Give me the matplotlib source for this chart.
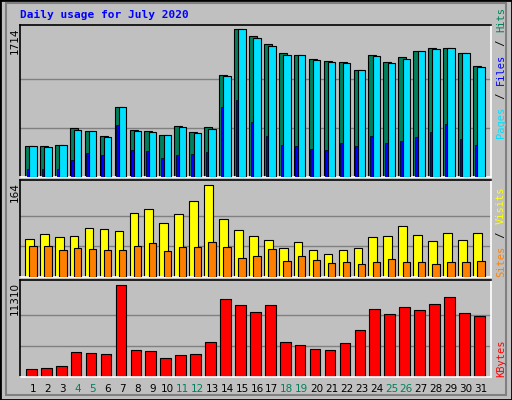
import matplotlib
matplotlib.use("Agg")
import matplotlib.pyplot as plt
from matplotlib.patches import Rectangle

days = list(range(1, 32))
hits = [365,365,376,566,539,481,818,551,539,493,597,527,586,1179,1714,1633,1540,1435,1412,1365,1342,1330,1237,1412,1330,1388,1458,1493,1493,1435,1284]
files = [365,353,376,551,539,469,818,539,527,493,586,516,562,1167,1714,1609,1516,1412,1412,1353,1330,1319,1237,1400,1319,1365,1458,1481,1493,1435,1272]
pages = [97,97,97,202,283,260,609,318,306,225,260,271,295,807,888,644,481,376,365,330,318,399,365,481,399,423,469,527,620,446,376]
visits = [68,77,71,73,87,86,82,114,121,96,112,135,164,103,84,73,66,52,62,48,41,48,52,71,73,91,75,64,78,66,78]
sites = [55,55,48,52,50,48,48,55,61,46,53,53,62,53,34,37,50,29,37,30,25,27,23,27,32,27,27,23,27,27,29]
kbytes = [1032,1156,1404,3013,2890,2766,11310,3261,3137,2270,2642,2766,4252,9577,8834,7967,8834,4252,3880,3385,3261,4128,5738,8339,7719,8586,8215,8958,9825,7843,7472]
weekend = [4,5,11,12,18,19,25,26]
title = "Daily usage for July 2020"

W, H = 512, 400
BG = "#C0C0C0"
fig = plt.figure(figsize=(W/100, H/100), dpi=100, facecolor=BG)
mono = "DejaVu Sans Mono"

# outer bevel
fig.patches.append(Rectangle((0, 0), 1, 1, transform=fig.transFigure, fill=False, ec="black", lw=2))
fig.patches.append(Rectangle((6/W, 5/H), 1-12/W, 1-8/H, transform=fig.transFigure, fill=False, ec="#808080", lw=1.5))

def mkax(y0, y1):
    ax = fig.add_axes([20/W, 1-y1/H, (491-20)/W, (y1-y0)/H], facecolor=BG)
    ax.set_xlim(0.13, 31.67)
    for s in ("top", "left"):
        ax.spines[s].set_color("black")
    for s in ("bottom", "right"):
        ax.spines[s].set_color("white")
    for s in ax.spines.values():
        s.set_linewidth(1.2)
    ax.set_xticks([]); ax.set_yticks([])
    return ax

px = 1/14.93
ec = dict(edgecolor="black", linewidth=0.8)

ax1 = mkax(25, 177)
ax1.set_ylim(0, 1764)
for g in (1714/3, 2*1714/3):
    ax1.axhline(g, color="#808080", lw=1, zorder=0)
ax1.bar([d - 8*px for d in days], hits, width=8*px, align="edge", color="#00805C", zorder=2, **ec)
ax1.bar([d - 3.7*px for d in days], files, width=7.4*px, align="edge", color="#00E0FF", zorder=3, **ec)
ax1.bar([d - 6.3*px for d in days], pages, width=2.6*px, align="edge", color="#0000FF", zorder=4, edgecolor="black", linewidth=0.5)

ax2 = mkax(180, 277)
ax2.set_ylim(0, 173)
for g in (164/3, 2*164/3):
    ax2.axhline(g, color="#808080", lw=1, zorder=0)
ax2.bar([d - 8*px for d in days], visits, width=8.7*px, align="edge", color="#FFFF00", zorder=2, **ec)
ax2.bar([d - 3.7*px for d in days], sites, width=7.4*px, align="edge", color="#FF8000", zorder=3, **ec)

ax3 = mkax(280, 377)
ax3.set_ylim(0, 11310*96/91.4)
for g in (11310/3, 2*11310/3):
    ax3.axhline(g, color="#808080", lw=1, zorder=0)
ax3.bar([d - 7*px for d in days], kbytes, width=10.7*px, align="edge", color="#FF0000", zorder=2, **ec)

for d in days:
    ax3.text(d, -0.12, str(d), transform=ax3.get_xaxis_transform(), ha="center", va="center",
             fontsize=7.5, family="DejaVu Sans",
             color="#00805C" if d in weekend else "black")

fig.text(20/W, 1-15/H, title, ha="left", va="center", color="#0000FF", fontsize=8, weight="bold", family=mono)

def ylab(txt, y):
    fig.text(15/W, 1-y/H, txt, rotation=90, ha="center", va="top", fontsize=7.5, family="DejaVu Sans")
ylab("1714", 27); ylab("164", 182); ylab("11310", 282)

def rlab(parts, ystart):
    y = ystart
    for txt, col in parts:
        t = fig.text(501/W, 1-y/H, txt, rotation=90, ha="center", va="bottom", fontsize=7.5, family=mono, color=col)
        y -= len(txt) * 6.6
rlab([("Pages", "#00E0FF"), (" / ", "#000000"), ("Files", "#0000FF"), (" / ", "#000000"), ("Hits", "#00805C")], 138)
rlab([("Sites", "#FF8000"), (" / ", "#000000"), ("Visits", "#FFFF00")], 277)
rlab([("KBytes", "#FF0000")], 377)

fig.savefig("out.png", dpi=100, facecolor=BG)
